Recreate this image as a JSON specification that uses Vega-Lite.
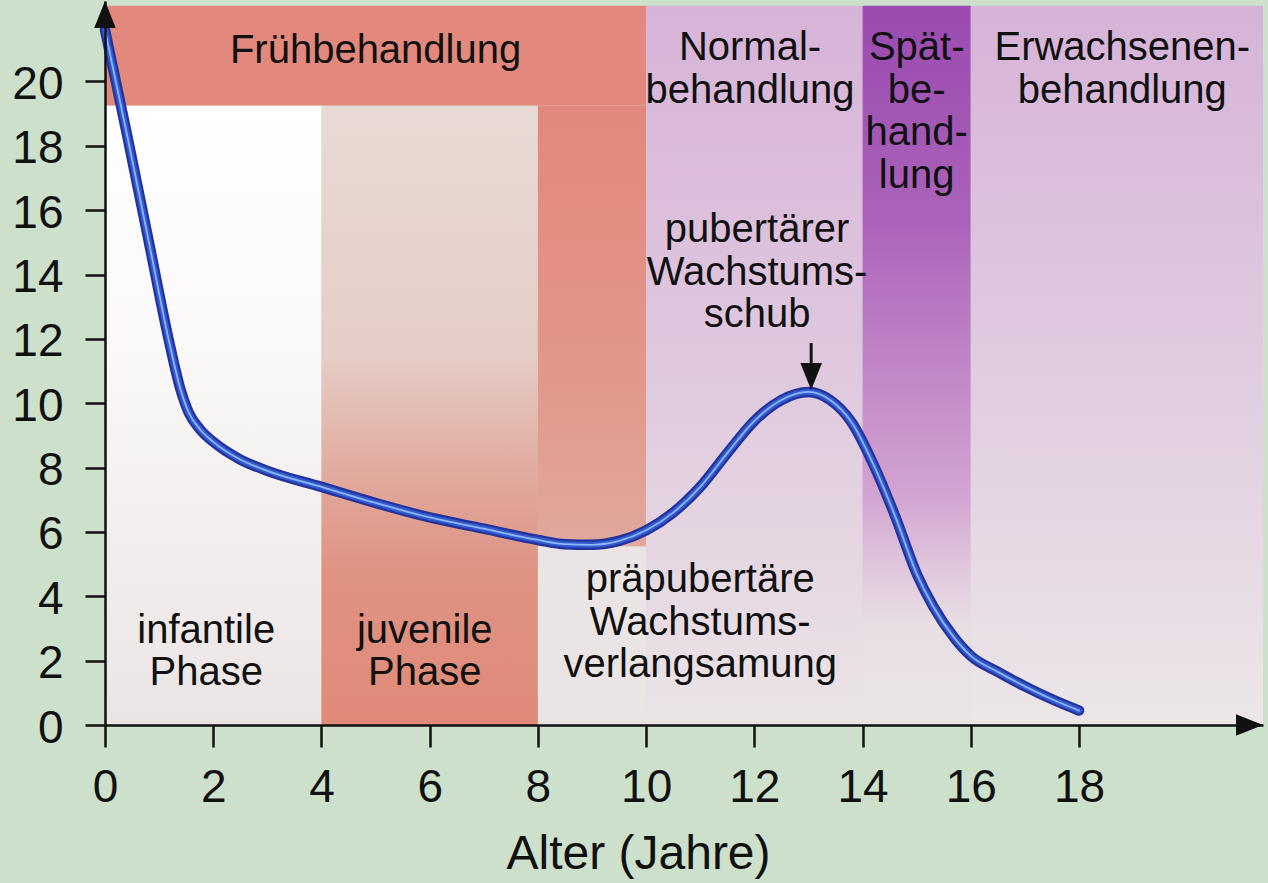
{
  "$schema": "https://vega.github.io/schema/vega-lite/v6.json",
  "width": 1158,
  "height": 724,
  "autosize": {"type": "none"},
  "padding": {"left": 105, "top": 1, "right": 5, "bottom": 158},
  "background": "#cde0cc",
  "config": {"view": {"stroke": null}, "font": "Liberation Sans"},
  "datasets": {
    "curve": [
      {"x": 0.0, "y": 21.6}, {"x": 0.4, "y": 18.4}, {"x": 0.8, "y": 15.1}, {"x": 1.2, "y": 11.8},
      {"x": 1.4, "y": 10.4}, {"x": 1.55, "y": 9.7}, {"x": 1.75, "y": 9.2}, {"x": 2.0, "y": 8.8},
      {"x": 2.5, "y": 8.25}, {"x": 3.0, "y": 7.9}, {"x": 4.0, "y": 7.4}, {"x": 5.0, "y": 6.9},
      {"x": 6.0, "y": 6.45}, {"x": 7.0, "y": 6.1}, {"x": 8.0, "y": 5.75}, {"x": 8.5, "y": 5.62},
      {"x": 9.0, "y": 5.6}, {"x": 9.5, "y": 5.72}, {"x": 10.0, "y": 6.05}, {"x": 10.5, "y": 6.6},
      {"x": 11.0, "y": 7.4}, {"x": 11.5, "y": 8.45}, {"x": 12.0, "y": 9.45}, {"x": 12.5, "y": 10.1},
      {"x": 13.0, "y": 10.35}, {"x": 13.4, "y": 10.1}, {"x": 13.8, "y": 9.4}, {"x": 14.2, "y": 8.1},
      {"x": 14.6, "y": 6.5}, {"x": 15.0, "y": 4.7}, {"x": 15.3, "y": 3.7}, {"x": 15.7, "y": 2.7},
      {"x": 16.0, "y": 2.15}, {"x": 16.5, "y": 1.65}, {"x": 17.0, "y": 1.2}, {"x": 17.5, "y": 0.8},
      {"x": 18.0, "y": 0.45}
    ]
  },
  "encoding": {
    "x": {
      "field": "x", "type": "quantitative",
      "scale": {"domain": [0, 21.4], "nice": false, "zero": false},
      "axis": {
        "values": [0, 2, 4, 6, 8, 10, 12, 14, 16, 18],
        "title": "Alter (Jahre)", "titleFontSize": 48, "titleFontWeight": "normal", "titleColor": "#111111",
        "titleFont": "Liberation Sans", "titleX": 533, "titleY": 143, "titleBaseline": "alphabetic", "titleAlign": "center",
        "labelFontSize": 46, "labelColor": "#111111", "labelFont": "Liberation Sans", "labelPadding": 54, "labelBaseline": "alphabetic",
        "labelFlush": false, "labelOverlap": false,
        "tickSize": 22, "tickWidth": 2.5, "tickColor": "#111111",
        "domainColor": "#111111", "domainWidth": 2.5, "grid": false, "zindex": 1
      }
    },
    "y": {
      "field": "y", "type": "quantitative",
      "scale": {"domain": [0, 22.5], "nice": false, "zero": false},
      "axis": {
        "values": [0, 2, 4, 6, 8, 10, 12, 14, 16, 18, 20],
        "title": null,
        "labelFontSize": 46, "labelColor": "#111111", "labelFont": "Liberation Sans", "labelPadding": 22, "labelOffset": 3,
        "labelFlush": false, "labelOverlap": false,
        "tickSize": 20, "tickWidth": 2.5, "tickColor": "#111111",
        "domainColor": "#111111", "domainWidth": 2.5, "grid": false, "zindex": 1
      }
    }
  },
  "layer": [
    {
      "data": {"values": [{"x": 0, "x2": 4, "y": 0, "y2": 19.25}]},
      "mark": {"type": "rect", "fill": {"gradient": "linear", "x1": 0, "y1": 0, "x2": 0, "y2": 1,
        "stops": [{"offset": 0, "color": "#ffffff"}, {"offset": 0.35, "color": "#fbf9f9"}, {"offset": 1, "color": "#ebe4e4"}]}},
      "encoding": {"x2": {"field": "x2"}, "y2": {"field": "y2"}}
    },
    {
      "data": {"values": [{"x": 4, "x2": 8, "y": 0, "y2": 19.25}]},
      "mark": {"type": "rect", "fill": {"gradient": "linear", "x1": 0, "y1": 0, "x2": 0, "y2": 1,
        "stops": [{"offset": 0, "color": "#e8dad5"}, {"offset": 0.4, "color": "#e5cdc7"}, {"offset": 0.6, "color": "#e1a99d"}, {"offset": 0.75, "color": "#df9383"}, {"offset": 1, "color": "#e08a78"}]}},
      "encoding": {"x2": {"field": "x2"}, "y2": {"field": "y2"}}
    },
    {
      "data": {"values": [{"x": 0, "x2": 10, "y": 19.25, "y2": 22.35}]},
      "mark": {"type": "rect", "fill": "#e2887c"},
      "encoding": {"x2": {"field": "x2"}, "y2": {"field": "y2"}}
    },
    {
      "data": {"values": [{"x": 8, "x2": 10, "y": 5.55, "y2": 19.25}]},
      "mark": {"type": "rect", "fill": {"gradient": "linear", "x1": 0, "y1": 0, "x2": 0, "y2": 1,
        "stops": [{"offset": 0, "color": "#e2887c"}, {"offset": 0.6, "color": "#e29788"}, {"offset": 1, "color": "#e0a89e"}]}},
      "encoding": {"x2": {"field": "x2"}, "y2": {"field": "y2"}}
    },
    {
      "data": {"values": [{"x": 8, "x2": 10, "y": 0, "y2": 5.55}]},
      "mark": {"type": "rect", "fill": "#ebe4e4"},
      "encoding": {"x2": {"field": "x2"}, "y2": {"field": "y2"}}
    },
    {
      "data": {"values": [{"x": 10, "x2": 14, "y": 0, "y2": 22.35}]},
      "mark": {"type": "rect", "fill": {"gradient": "linear", "x1": 0, "y1": 0, "x2": 0, "y2": 1,
        "stops": [{"offset": 0, "color": "#d7b3d8"}, {"offset": 0.5, "color": "#dfc8de"}, {"offset": 1, "color": "#ebe4e6"}]}},
      "encoding": {"x2": {"field": "x2"}, "y2": {"field": "y2"}}
    },
    {
      "data": {"values": [{"x": 14, "x2": 16, "y": 0, "y2": 22.35}]},
      "mark": {"type": "rect", "fill": {"gradient": "linear", "x1": 0, "y1": 0, "x2": 0, "y2": 1,
        "stops": [{"offset": 0, "color": "#9a4ab0"}, {"offset": 0.3, "color": "#ab63ba"}, {"offset": 0.5, "color": "#c085c6"}, {"offset": 0.68, "color": "#d2a4d1"}, {"offset": 0.78, "color": "#dfc6dc"}, {"offset": 0.86, "color": "#e8dee4"}, {"offset": 1, "color": "#ebe5e7"}]}},
      "encoding": {"x2": {"field": "x2"}, "y2": {"field": "y2"}}
    },
    {
      "data": {"values": [{"x": 16, "x2": 21.4, "y": 0, "y2": 22.35}]},
      "mark": {"type": "rect", "fill": {"gradient": "linear", "x1": 0, "y1": 0, "x2": 0, "y2": 1,
        "stops": [{"offset": 0, "color": "#d6b3d8"}, {"offset": 0.5, "color": "#e0cbe0"}, {"offset": 1, "color": "#ece6e8"}]}},
      "encoding": {"x2": {"field": "x2"}, "y2": {"field": "y2"}}
    },
    {
      "data": {"values": [
        {"x": 5.0, "y": 20.57, "label": "Frühbehandlung"},
        {"x": 11.92, "y": 20.66, "label": "Normal-\nbehandlung"},
        {"x": 15.0, "y": 20.66, "label": "Spät-\nbe-\nhand-\nlung"},
        {"x": 18.8, "y": 20.66, "label": "Erwachsenen-\nbehandlung"},
        {"x": 12.05, "y": 15.0, "label": "pubertärer\nWachstums-\nschub"},
        {"x": 11.0, "y": 4.13, "label": "präpubertäre\nWachstums-\nverlangsamung"},
        {"x": 1.87, "y": 2.55, "label": "infantile\nPhase"},
        {"x": 5.91, "y": 2.55, "label": "juvenile\nPhase"}
      ]},
      "mark": {"type": "text", "font": "Liberation Sans", "fontSize": 40, "lineHeight": 42.5, "lineBreak": "\n", "align": "center", "baseline": "alphabetic", "color": "#111111"},
      "encoding": {"text": {"field": "label"}}
    },
    {
      "data": {"name": "curve"},
      "mark": {"type": "line", "interpolate": "monotone", "strokeWidth": 10.5, "color": "#23339c", "strokeCap": "round", "strokeJoin": "round"}
    },
    {
      "data": {"name": "curve"},
      "mark": {"type": "line", "interpolate": "monotone", "strokeWidth": 6, "color": "#3559d0", "strokeCap": "round", "strokeJoin": "round"}
    },
    {
      "data": {"name": "curve"},
      "mark": {"type": "line", "interpolate": "monotone", "strokeWidth": 1.8, "color": "#8cb8f5", "strokeCap": "round", "strokeJoin": "round"}
    },
    {
      "data": {"values": [{"x": 13.05, "y": 11.87, "y2": 10.9}]},
      "mark": {"type": "rule", "strokeWidth": 3, "color": "#111111"},
      "encoding": {"y2": {"field": "y2"}}
    },
    {
      "data": {"values": [{"x": 13.05, "y": 10.41}]},
      "mark": {"type": "point", "shape": "M0,0 L-0.4,-1 L0.4,-1 Z", "size": 2916, "filled": true, "opacity": 1, "color": "#111111"}
    },
    {
      "data": {"values": [{"x": 21.4, "y": 0}]},
      "mark": {"type": "point", "shape": "M0,0 L-1,-0.4 L-1,0.4 Z", "size": 2916, "filled": true, "opacity": 1, "color": "#111111"}
    },
    {
      "data": {"values": [{"x": 0, "y": 22.5}]},
      "mark": {"type": "point", "shape": "M0,0 L-0.4,1 L0.4,1 Z", "size": 2916, "filled": true, "opacity": 1, "color": "#111111"}
    }
  ]
}
